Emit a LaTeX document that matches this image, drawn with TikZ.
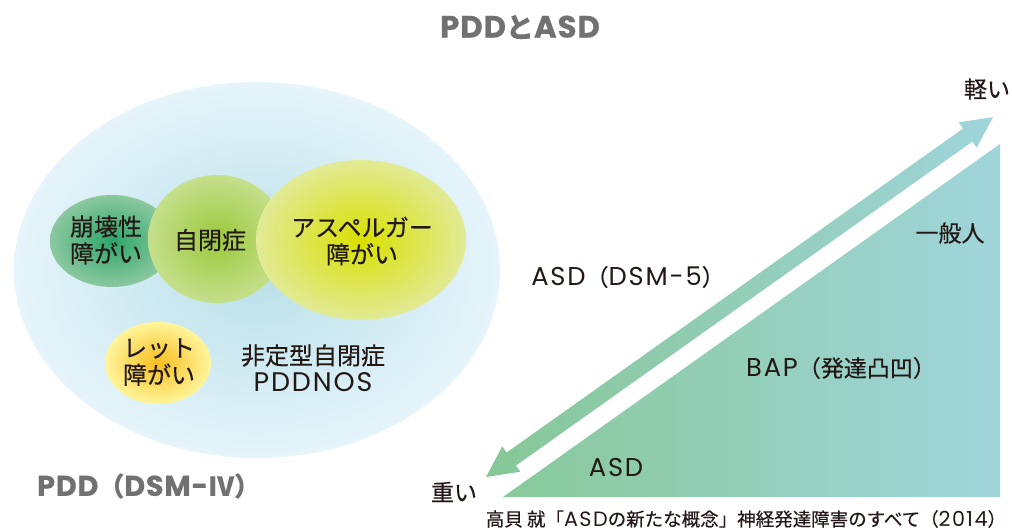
\documentclass[tikz,border=0pt]{standalone}
\usepackage{fontspec}
\setmainfont{Noto Sans CJK JP}[FakeBold=0.35]
\newfontfamily\lat{Poppins}[Scale=1.12, LetterSpace=7]
\newfontfamily\latb{Poppins}[Scale=1.1, LetterSpace=3, FakeBold=0.6]
\usetikzlibrary{shapes.geometric}
\definecolor{txt}{HTML}{231815}
\definecolor{gtitle}{HTML}{727171}
\definecolor{bigIn}{HTML}{B9E0E8}
\definecolor{bigOut}{HTML}{E6F4FB}
\definecolor{k1In}{HTML}{2CA66A}
\definecolor{k1Out}{HTML}{8CC8A0}
\definecolor{k2In}{HTML}{9BC93C}
\definecolor{k2Out}{HTML}{C5DF8C}
\definecolor{k3In}{HTML}{D8E000}
\definecolor{k3Out}{HTML}{E2EA96}
\definecolor{k4In}{HTML}{F6BE1E}
\definecolor{k4Out}{HTML}{FFF59C}
\definecolor{triL}{HTML}{88C99A}
\definecolor{triR}{HTML}{A0D5DB}
\definecolor{arL}{HTML}{86C796}
\definecolor{arR}{HTML}{9FD4DA}
\tikzset{
  blob/.style={ellipse, draw=none, inner sep=0, outer sep=0},
  jp/.style={font=\fontsize{24}{27}\selectfont, text=txt, align=center, inner sep=0},
  rj/.style={font=\fontsize{23}{27}\selectfont, text=txt, align=center, inner sep=0},
  srcnote/.style={font=\fontsize{18.5}{20}\selectfont, text=txt, inner sep=0},
  ttl/.style={font=\bfseries\fontsize{26}{30}\selectfont, text=gtitle, inner sep=0},
  bigttl/.style={font=\bfseries\fontsize{28}{30}\selectfont, text=gtitle, inner sep=0}
}
\begin{document}
\begin{tikzpicture}[x=1pt,y=-1pt]
\useasboundingbox (0,0) rectangle (1012,532);
% title
\node[bigttl] (title) at (520,27) {{\latb PDD}と{\latb ASD}};
% left: PDD ellipses
\node[blob, minimum width=486pt, minimum height=376pt, inner color=bigIn, outer color=bigOut] (big) at (257,270) {};
\node[blob, minimum width=124pt, minimum height=92pt, inner color=k1In, outer color=k1Out] (e1) at (112,241) {};
\node[blob, minimum width=138pt, minimum height=128pt, inner color=k2In, outer color=k2Out] (e2) at (217,239) {};
\node[blob, minimum width=210pt, minimum height=160pt, inner color=k3In, outer color=k3Out] (e3) at (361,240) {};
\node[blob, minimum width=106pt, minimum height=82pt, inner color=k4In, outer color=k4Out] (e4) at (158,363) {};
\node[jp] (t1) at (106,240) {崩壊性\\障がい};
\node[jp] (t2) at (210,240) {自閉症};
\node[jp] (t3) at (362,241) {アスペルガー\\障がい};
\node[jp] (t4) at (159,362) {レット\\障がい};
\node[jp] (t5) at (313,368) {非定型自閉症\\{\lat PDDNOS}};
\node[ttl, anchor=west] (pdd) at (37,486) {{\latb PDD}（{\latb DSM-}Ⅳ）};
% right: triangle
\coordinate (tA) at (503,497);
\coordinate (tB) at (1000,144);
\coordinate (tC) at (1000,497);
\shade[left color=triL, right color=triR] (tA) -- (tB) -- (tC) -- cycle;
% double arrow
\begin{scope}[shift={(486,477)}, rotate=35.37]
\shade[left color=arL, right color=arR]
  (0,0) -- (31,-15.5) -- (31,-8) -- (590.8,-8) -- (590.8,-15.5) -- (621.8,0)
  -- (590.8,15.5) -- (590.8,8) -- (31,8) -- (31,15.5) -- cycle;
\end{scope}
\node[rj] (light) at (987,89) {軽い};
\node[rj] (heavy) at (454,492) {重い};
\node[rj] (gen) at (950,233) {一般人};
\node[rj] (asd5) at (628,277) {{\lat ASD}（{\lat DSM-5}）};
\node[rj] (bap) at (841,368) {{\lat BAP}（発達凸凹）};
\node[rj] (asd) at (616,467) {{\lat ASD}};
\node[srcnote] (src) at (746,519) {高貝 就「{\lat ASD}の新たな概念」神経発達障害のすべて（{\lat 2014}）};
\end{tikzpicture}
\end{document}
